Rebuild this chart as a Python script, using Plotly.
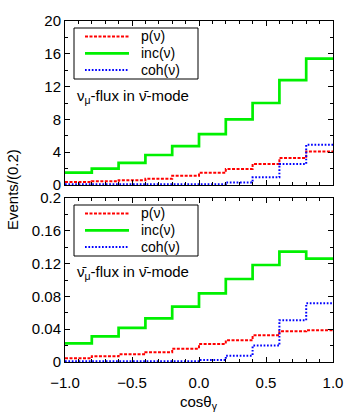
import plotly.graph_objects as go
from plotly.subplots import make_subplots

edges = [-1.0, -0.8, -0.6, -0.4, -0.2, 0.0, 0.2, 0.4, 0.6, 0.8, 1.0]

top_p = [0.37, 0.45, 0.57, 0.75, 1.14, 1.5, 1.95, 2.56, 3.29, 4.1]
top_inc = [1.5, 2.0, 2.7, 3.66, 4.75, 6.2, 8.0, 10.0, 12.8, 15.4]
top_coh = [0.08, 0.08, 0.08, 0.08, 0.08, 0.1, 0.3, 0.93, 2.56, 4.9]

bot_p = [0.0045, 0.007, 0.0093, 0.0118, 0.0163, 0.022, 0.0264, 0.0325, 0.0374, 0.0386]
bot_inc = [0.0228, 0.0313, 0.0415, 0.0533, 0.0675, 0.0837, 0.1012, 0.1183, 0.1346, 0.126]
bot_coh = [0.001, 0.001, 0.001, 0.001, 0.001, 0.0024, 0.0077, 0.020, 0.051, 0.0715]

names = ["p(ν)", "inc(ν)", "coh(ν)"]
colors = ["#ff0000", "#00f000", "#0000ff"]
dashes = ["3px,1.5px", "solid", "1.7px,1.7px"]
widths = [2, 2.7, 2]

FONT = "Liberation Sans, Arial, Helvetica, sans-serif"

W, H = 357, 417
ML, MR, MT, MB = 65, 24, 21, 55
PW, PH = W - ML - MR, H - MT - MB


def px(x):
    return (x - ML) / PW


def py(y):
    return (H - MB - y) / PH


fig = make_subplots(rows=2, cols=1, shared_xaxes=False, vertical_spacing=13 / PH)


def step(vals):
    return list(edges), list(vals) + [vals[-1]]


for row, series in [(1, [top_p, top_inc, top_coh]), (2, [bot_p, bot_inc, bot_coh])]:
    for vals, nm, c, d, w in zip(series, names, colors, dashes, widths):
        xs, ys = step(vals)
        fig.add_trace(go.Scatter(x=xs, y=ys, mode="lines", name=nm, showlegend=False,
                                 line=dict(color=c, dash=d, width=w, shape="hv")),
                      row=row, col=1)

axcommon = dict(showline=True, linecolor="black", linewidth=1, mirror="allticks",
                ticks="inside", ticklen=5, tickcolor="black", showgrid=False,
                zeroline=False, tickfont=dict(family=FONT, size=15, color="black"))

fig.update_xaxes(range=[-1, 1], dtick=0.5, tick0=-1, tickformat=".1f",
                 ticklabelstandoff=7,
                 minor=dict(dtick=0.1, ticks="inside", ticklen=3, tickcolor="black"),
                 **axcommon)
fig.update_xaxes(showticklabels=False, row=1, col=1)
fig.update_yaxes(**axcommon)
fig.update_yaxes(range=[0, 20], dtick=4,
                 minor=dict(dtick=2, ticks="inside", ticklen=3, tickcolor="black"),
                 row=1, col=1)
fig.update_yaxes(range=[0, 0.2], dtick=0.04, tickformat="~g",
                 minor=dict(dtick=0.02, ticks="inside", ticklen=3, tickcolor="black"),
                 row=2, col=1)

shapes = []
annotations = []
# manual legends (box top pixel positions)
for box_top in [28, 205]:
    shapes.append(dict(type="rect", xref="paper", yref="paper",
                       x0=px(74), x1=px(198), y0=py(box_top), y1=py(box_top + 51),
                       line=dict(color="black", width=1), fillcolor="white", layer="above"))
    for i, (nm, c, d, w) in enumerate(zip(names, colors, dashes, widths)):
        yy = box_top + 8.5 + 16.8 * i
        shapes.append(dict(type="line", xref="paper", yref="paper",
                           x0=px(85), x1=px(129), y0=py(yy), y1=py(yy),
                           line=dict(color=c, width=w, dash=d), layer="above"))
        annotations.append(dict(text=nm, xref="paper", yref="paper", x=px(139), y=py(yy),
                                xanchor="left", yanchor="middle", showarrow=False,
                                font=dict(family=FONT, size=14, color="black")))

annotations += [
    dict(text="ν<sub>μ</sub>-flux in ν\u0304-mode", xref="paper", yref="paper",
         x=px(75), y=py(96), xanchor="left", yanchor="middle", showarrow=False,
         font=dict(family=FONT, size=15)),
    dict(text="ν\u0304<sub>μ</sub>-flux in ν\u0304-mode", xref="paper", yref="paper",
         x=px(75), y=py(272), xanchor="left", yanchor="middle", showarrow=False,
         font=dict(family=FONT, size=15)),
    dict(text="Events/(0.2)", xref="paper", yref="paper", x=px(12), y=py(190),
         xanchor="center", yanchor="middle", textangle=-90, showarrow=False,
         font=dict(family=FONT, size=15)),
    dict(text="cosθ<sub>γ</sub>", xref="paper", yref="paper", x=px(199), y=py(403),
         xanchor="center", yanchor="middle", showarrow=False,
         font=dict(family=FONT, size=15)),
]

fig.update_layout(
    width=W, height=H,
    margin=dict(l=ML, r=MR, t=MT, b=MB),
    paper_bgcolor="white", plot_bgcolor="white",
    font=dict(family=FONT, size=14, color="black"),
    showlegend=False,
    shapes=shapes,
    annotations=annotations,
)

fig.write_html("out.html", config={"displayModeBar": False},
               post_script="document.body.style.margin='0px';")
